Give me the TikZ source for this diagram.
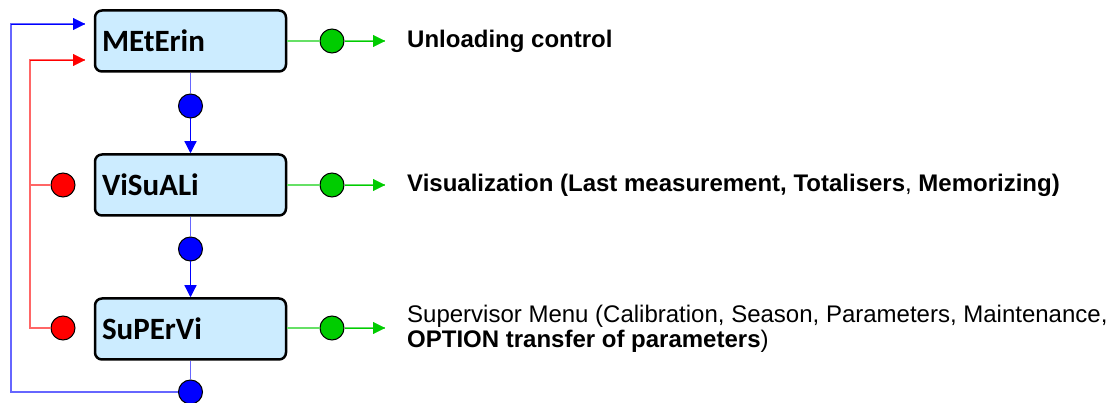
\documentclass[tikz,border=0pt]{standalone}
\usepackage{fontspec}
\setmainfont{Liberation Sans}
\newfontfamily\boxfont{Carlito}
\usetikzlibrary{arrows.meta,positioning}
\definecolor{boxblue}{RGB}{204,236,255}
\definecolor{dotgreen}{RGB}{0,204,0}
\tikzset{
	menubox/.style = {draw, line width=2.5pt, rounded corners=7pt, fill=boxblue,
		minimum width=191pt, minimum height=61pt, text width=177pt, align=left,
		inner xsep=7pt, font=\boxfont\bfseries\fontsize{31}{31}\selectfont},
	ball/.style = {circle, draw, line width=1pt, minimum size=24pt, inner sep=0pt},
	bline/.style = {blue!60, line width=1.2pt},
	rline/.style = {red!60, line width=1.2pt},
	gline/.style = {dotgreen!60, line width=1.2pt},
	tip/.style = {-{Triangle[length=12pt,width=12pt]}},
	label/.style = {anchor=west, inner sep=0pt, align=left, font=\fontsize{24}{25}\selectfont}
}
\begin{document}
\begin{tikzpicture}[x=1pt,y=-1pt]
				\useasboundingbox (0,0) rectangle (1117,403);
				
				\node[menubox] (meterin) at (190.5,41) {MEtErin};
				\node[menubox] (visuali) at (190.5,185) {ViSuALi};
				\node[menubox] (supervi) at (190.5,329) {SuPErVi};
				
				% blue path down the menus
				\node[ball, fill=blue] (b1) at (190.5,106) {};
				\node[ball, fill=blue] (b2) at (190.5,249) {};
				\node[ball, fill=blue] (b3) at (190.5,392) {};
				\draw[bline] (meterin.south) -- (b1.north);
				\draw[bline, tip, blue] (b1.south) -- (visuali.north);
				\draw[bline] (visuali.south) -- (b2.north);
				\draw[bline, tip, blue] (b2.south) -- (supervi.north);
				\draw[bline] (supervi.south) -- (b3.north);
				
				% back to the top
				\coordinate (bl) at (11,392);
				\coordinate (tl) at (11,24);
				\coordinate (bend) at (85,24);
				\draw[bline] (b3.west) -- (bl) -- (tl) -- (bend);
				\draw[tip, blue] (tl) -- (bend);
				
				\node[ball, fill=red] (r1) at (63,185) {};
				\node[ball, fill=red] (r2) at (63,328) {};
				\coordinate (rb) at (30,328);
				\coordinate (rm) at (30,185);
				\coordinate (rt) at (30,60);
				\coordinate (rend) at (85,60);
				\draw[rline] (r2.west) -- (rb) -- (rt) -- (rend);
				\draw[rline] (r1.west) -- (rm);
				\draw[tip, red] (rt) -- (rend);
				
				% outputs
				\node[ball, fill=dotgreen] (g1) at (332,41) {};
				\node[ball, fill=dotgreen] (g2) at (332,185) {};
				\node[ball, fill=dotgreen] (g3) at (332,328) {};
				\coordinate (o1) at (385,41);
				\coordinate (o2) at (385,185);
				\coordinate (o3) at (385,328);
				\draw[gline] (meterin.east |- g1) -- (g1.west);
				\draw[gline] (visuali.east |- g2) -- (g2.west);
				\draw[gline] (supervi.east |- g3) -- (g3.west);
				\draw[gline] (g1.east) -- (o1);
				\draw[gline] (g2.east) -- (o2);
				\draw[gline] (g3.east) -- (o3);
				\draw[tip, dotgreen] (g1.east) -- (o1);
				\draw[tip, dotgreen] (g2.east) -- (o2);
				\draw[tip, dotgreen] (g3.east) -- (o3);
				
				\node[label] (t1) at (407,41) {\textbf{Unloading control}};
				\node[label] (t2) at (407,185) {\textbf{Visualization (Last measurement, Totalisers}, \textbf{Memorizing)}};
				\node[label] (t3) at (407,329) {Supervisor Menu (Calibration, Season, Parameters, Maintenance,\\ \textbf{OPTION transfer of parameters})};
\end{tikzpicture}
\end{document}
